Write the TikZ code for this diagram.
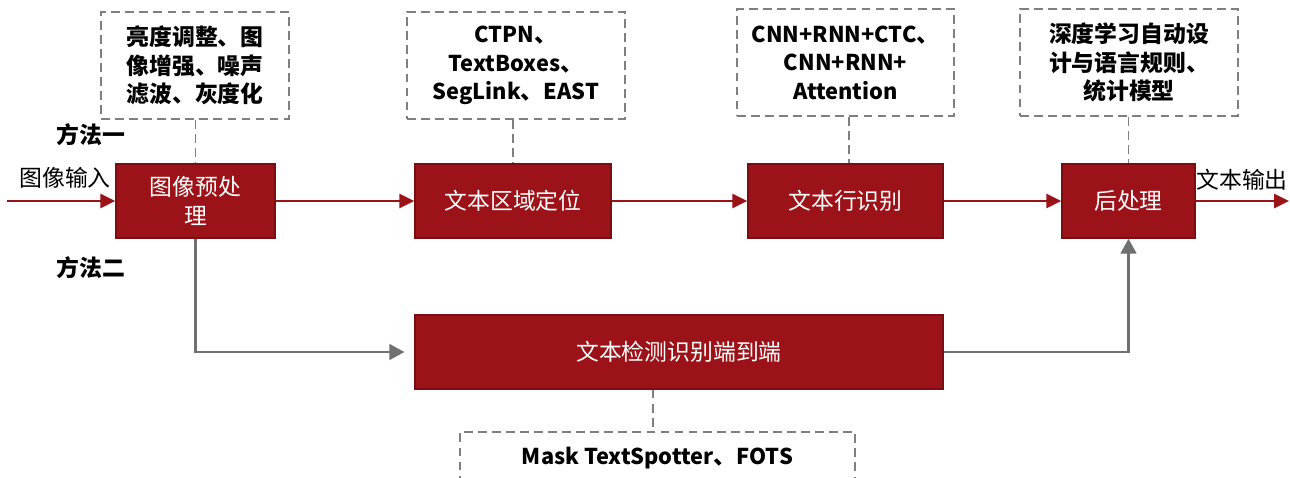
\documentclass[tikz,border=0pt]{standalone}
\usepackage{fontspec}
\setmainfont{Noto Sans CJK SC}
\newcommand\en[1]{{\fontsize{12.4}{16.2}\selectfont #1}}
\usepackage{xcolor}
\usetikzlibrary{arrows.meta}

\definecolor{boxred}{HTML}{9C1219}
\definecolor{boxedge}{HTML}{780D12}
\definecolor{linegray}{HTML}{707070}
\definecolor{dashgray}{HTML}{7F7F7F}

\begin{document}
\begin{tikzpicture}
      [ x=0.02cm, y=-0.02cm,
        stage/.style={draw=boxedge, line width=0.8pt, fill=boxred, text=white,
                      align=center, minimum height=1.48cm, inner sep=1pt,
                      font=\fontsize{13}{17}\selectfont},
        note/.style={draw=dashgray, dash pattern=on 5pt off 3pt, line width=1.1pt,
                     align=center, inner sep=0pt, minimum height=2.14cm,
                     font=\fontsize{13}{16.2}\selectfont\bfseries},
        link/.style={draw=dashgray, dash pattern=on 5pt off 3pt, line width=1.1pt},
        flow/.style={draw=boxred, line width=1.4pt, -{Triangle[length=8.5pt,width=8pt]}},
        route/.style={draw=linegray, line width=1.2pt, -{Triangle[length=8.5pt,width=9pt]}},
        label/.style={font=\fontsize{13}{16}\selectfont}
      ]
      \useasboundingbox (0,0) rectangle (1290,477);

      % main stages
      \node[stage, minimum width=3.18cm]  (pre)  at (195.5,201) {图像预处\\理};
      \node[stage, minimum width=3.92cm]  (loc)  at (513,201)   {文本区域定位};
      \node[stage, minimum width=3.90cm]  (rec)  at (845.5,201) {文本行识别};
      \node[stage, minimum width=2.66cm]  (post) at (1128.5,201) {后处理};
      \node[stage, minimum width=10.56cm] (e2e)  at (679,352)   {文本检测识别端到端};

      % method notes
      \node[note, minimum width=3.76cm] (n_pre)  at (195,65.5)   {亮度调整、图\\像增强、噪声\\滤波、灰度化};
      \node[note, minimum width=4.36cm] (n_loc)  at (516,65.5)
           {\en{CTPN}、\\\en{TextBoxes}、\\\en{SegLink}、\en{EAST}};
      \node[note, minimum width=4.34cm] (n_rec)  at (845.5,62.5)
           {\en{CNN+RNN+CTC}、\\\en{CNN+RNN+}\\\en{Attention}};
      \node[note, minimum width=4.36cm] (n_post) at (1129,62.5)  {深度学习自动设\\计与语言规则、\\统计模型};
      \node[note, minimum width=7.90cm, minimum height=1.04cm, anchor=north]
                                        (n_e2e)  at (657.5,431)
           {\en{Mask TextSpotter}、\en{FOTS}};

      % texts
      \node[label] (input)  at (65,178)   {图像输入};
      \node[label] (output) at (1242,180) {文本输出};
      \node[label, font=\fontsize{13}{16}\selectfont\bfseries] (way1) at (91,135) {方法一};
      \node[label, font=\fontsize{13}{16}\selectfont\bfseries] (way2) at (91,268) {方法二};

      \coordinate (in)  at (7,201);
      \coordinate (out) at (1289,201);

      % dashed ties
      \draw[link] (n_pre.south -| pre)   -- (pre.north);
      \draw[link] (n_loc.south -| loc)   -- (loc.north);
      \draw[link] (n_rec.south -| 849,0) -- (rec.north -| 849,0);
      \draw[link] (n_post.south -| post) -- (post.north);
      \draw[link] (e2e.south -| 653,0) -- (n_e2e.north -| 653,0);

      % method one
      \path[flow] (in)   -- (pre);
      \path[flow] (pre)  -- (loc);
      \path[flow] (loc)  -- (rec);
      \path[flow] (rec)  -- (post);
      \path[flow] (post) -- (out);

      % method two
      \path[route, shorten >=10*0.02cm] (pre.south) |- (e2e.west);
      \path[route] (e2e.east) -| (post.south);
\end{tikzpicture}
\end{document}
